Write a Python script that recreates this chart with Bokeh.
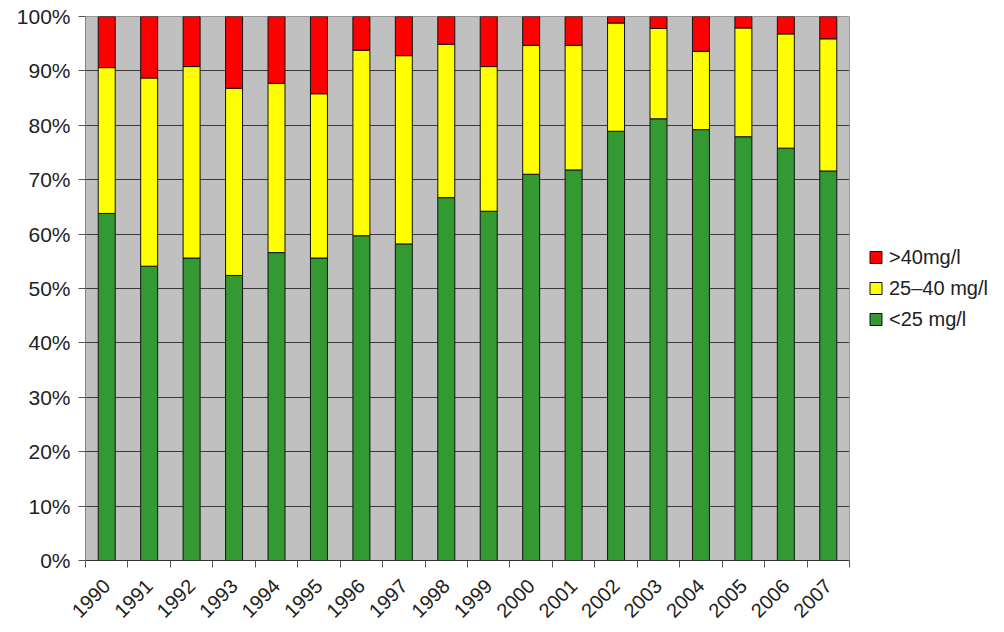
from bokeh.plotting import figure
from bokeh.models import FixedTicker, Legend, LegendItem, Range1d, ColumnDataSource
from bokeh.embed import file_html
from bokeh.resources import INLINE
import math

years = ["1990", "1991", "1992", "1993", "1994", "1995", "1996", "1997", "1998",
         "1999", "2000", "2001", "2002", "2003", "2004", "2005", "2006", "2007"]
low = [63.8, 54.1, 55.6, 52.4, 56.6, 55.6, 59.7, 58.2, 66.7,
       64.2, 71.0, 71.8, 78.9, 81.2, 79.2, 77.9, 75.8, 71.6]
mid = [26.8, 34.6, 35.2, 34.4, 31.1, 30.2, 34.1, 34.6, 28.2,
       26.6, 23.7, 22.9, 19.9, 16.6, 14.4, 20.0, 21.0, 24.3]
high = [9.4, 11.3, 9.2, 13.2, 12.3, 14.2, 6.2, 7.2, 5.1,
        9.2, 5.3, 5.3, 1.2, 2.2, 6.4, 2.1, 3.2, 4.1]
series_names = ["<25 mg/l", "25\u201340 mg/l", ">40mg/l"]
series_colors = ["#339933", "#FFFF00", "#FF0000"]
y_ticks = [0, 10, 20, 30, 40, 50, 60, 70, 80, 90, 100]

FONT = "Liberation Sans"

n = len(years)
xs = [i + 0.5 for i in range(n)]
src = ColumnDataSource(dict(x=xs, low=low, mid=mid, high=high))

p = figure(frame_width=764, frame_height=544, output_backend="svg", toolbar_location=None,
           x_range=Range1d(0, n), y_range=Range1d(0, 100),
           min_border_left=85, min_border_right=0, min_border_top=16, min_border_bottom=70)
p.background_fill_color = "#C0C0C0"
p.border_fill_color = "white"
p.outline_line_color = "#9a9a9a"

rs = p.vbar_stack(["low", "mid", "high"], x="x", width=0.4, source=src,
                  color=series_colors, line_color="#111111", line_width=1)

# Y axis
p.yaxis.ticker = FixedTicker(ticks=y_ticks, minor_ticks=[])
p.yaxis.major_label_overrides = {t: f"{t}%" for t in y_ticks}
p.yaxis.major_label_text_font = FONT
p.yaxis.major_label_text_font_size = "21px"
p.yaxis.major_label_text_color = "#222222"
p.yaxis.axis_line_color = "#808080"
p.yaxis.major_tick_line_color = "#555555"
p.yaxis.major_tick_out = 7
p.yaxis.major_tick_in = 0
p.yaxis.major_label_standoff = 8

# X axis: labels at centres, tick marks at boundaries
p.xaxis.ticker = FixedTicker(ticks=xs, minor_ticks=list(range(n + 1)))
p.xaxis.major_label_overrides = {x: y for x, y in zip(xs, years)}
p.xaxis.major_tick_line_color = None
p.xaxis.minor_tick_line_color = "#555555"
p.xaxis.minor_tick_out = 7
p.xaxis.minor_tick_in = 0
p.xaxis.axis_line_color = "#333333"
p.xaxis.major_label_orientation = math.pi / 4
p.xaxis.major_label_text_font = FONT
p.xaxis.major_label_text_font_size = "20px"
p.xaxis.major_label_text_color = "#222222"
p.xaxis.major_label_standoff = 15

p.xgrid.grid_line_color = None
p.ygrid.ticker = FixedTicker(ticks=y_ticks)
p.ygrid.grid_line_color = "#3a3a3a"
p.ygrid.grid_line_width = 1.2

items = [LegendItem(label=series_names[i], renderers=[rs[i]]) for i in [2, 1, 0]]
legend = Legend(items=items, location="center_left", border_line_color=None,
                background_fill_alpha=0, label_text_font=FONT,
                label_text_font_size="20px", label_text_color="#222222",
                glyph_width=15, glyph_height=15, spacing=8, label_standoff=6,
                margin=19, padding=0)
p.add_layout(legend, "right")

open("out.html", "w").write(file_html(p, INLINE))
